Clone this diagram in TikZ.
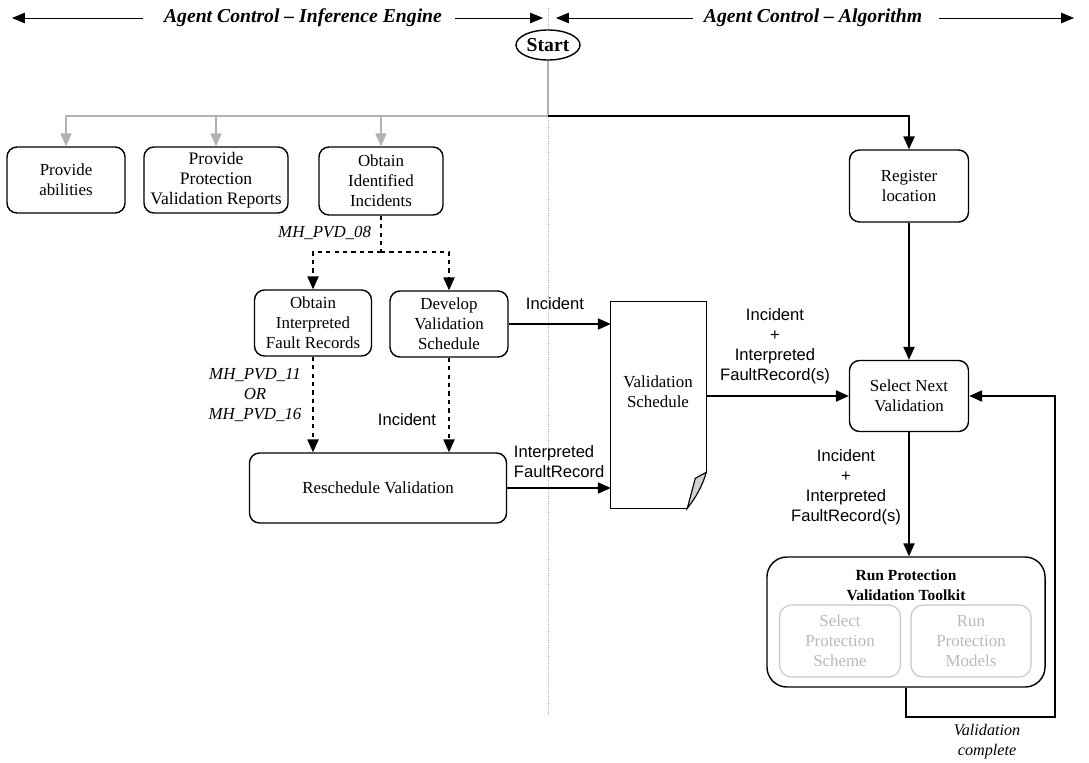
\documentclass[tikz,border=0pt]{standalone}
\usepackage{fontspec}
\setmainfont{Liberation Serif}
\setsansfont{Liberation Sans}
\usetikzlibrary{arrows.meta, shapes.geometric}

\begin{document}
\begin{tikzpicture}[
        x=0.025cm, y=-0.025cm,
        box/.style={draw, rounded corners=0.25cm, line width=1pt, align=center, inner sep=2pt, font=\fontsize{12}{14.3}\selectfont},
        inner box/.style={box, draw=gray!45, text=gray!55, rounded corners=0.3cm, line width=0.8pt},
        flow/.style={draw, line width=0.8pt, -{Triangle[length=3.2mm,width=2.8mm]}},
        grey flow/.style={flow, gray!60},
        dashed flow/.style={flow, dashed},
        flow label/.style={font=\sffamily\fontsize{11.8}{14.3}\selectfont, align=center},
        code label/.style={font=\itshape\fontsize{12}{14.3}\selectfont, align=center},
        head label/.style={font=\bfseries\itshape\fontsize{14}{16}\selectfont},
        head arrow/.style={draw, line width=0.6pt, -{Triangle[length=3.2mm,width=2.6mm]}}
    ]
	\useasboundingbox (0,0) rectangle (1089,762);

	% split between inference engine and algorithm
	\draw[gray!60, densely dotted, line width=0.6pt] (548,8) -- (548,716);

	\node[head label] (head_ie) at (303,18) {Agent Control -- Inference Engine};
	\node[head label] (head_alg) at (813,18) {Agent Control -- Algorithm};
	\coordinate (ie_left) at (12,18);
	\coordinate (ie_right) at (543,18);
	\coordinate (alg_left) at (556,18);
	\coordinate (alg_right) at (1074,18);
	\draw[head arrow] (head_ie.west) ++(-16,0) -- (ie_left);
	\draw[head arrow] (head_ie.east) ++(8,0) -- (ie_right);
	\draw[head arrow] (head_alg.west) ++(-6,0) -- (alg_left);
	\draw[head arrow] (head_alg.east) ++(12,0) -- (alg_right);

	\node[draw, ellipse, line width=1pt, fill=white, minimum width=1.6cm, minimum height=0.75cm, inner sep=0pt, font=\bfseries\fontsize{14}{16}\selectfont] (start) at (548,45) {Start};
	\coordinate (split) at (548,116);

	\node[box, minimum width=2.95cm, minimum height=1.65cm] (prov_abil) at (66,180) {Provide\\abilities};
	\node[box, minimum width=3.6cm, minimum height=1.65cm, font=\fontsize{12.5}{14.3}\selectfont] (prov_rep) at (216,180) {Provide\\Protection\\Validation Reports};
	\node[box, minimum width=3.1cm, minimum height=1.7cm] (obt_inc) at (381,181) {Obtain\\Identified\\Incidents};
	\node[box, minimum width=2.975cm, minimum height=1.8cm] (reg_loc) at (909,186) {Register\\location};

	\node[box, minimum width=2.925cm, minimum height=1.65cm] (obt_fault) at (313,323) {Obtain\\Interpreted\\Fault Records};
	\node[box, minimum width=2.95cm, minimum height=1.65cm] (dev_sched) at (449,324) {Develop\\Validation\\Schedule};
	\node[box, minimum width=6.425cm, minimum height=1.75cm] (resched) at (378,488) {Reschedule Validation};

	% schedule document with curled corner
	\node[minimum width=2.375cm, minimum height=5.15cm, inner sep=0pt] (val_sched) at (658.5,405) {};
	\draw[line width=1pt] (val_sched.south east) ++(0,-36) -- (val_sched.north east) -- (val_sched.north west) -- (val_sched.south west) -- ++(76,0);
	\filldraw[line width=0.8pt, fill=gray!35] (val_sched.south east) ++(0,-36) .. controls ++(-4,14) and ++(8,-10) .. ++(-19,36) -- ++(8,-30) -- cycle;
	\node[font=\fontsize{12}{14.3}\selectfont, align=center] (val_text) at (658,392) {Validation\\Schedule};

	\node[box, minimum width=2.975cm, minimum height=1.775cm] (sel_next) at (909,396) {Select Next\\Validation};

	\node[box, rounded corners=0.5cm, minimum width=6.95cm, minimum height=3.25cm] (run_kit) at (906,622) {};
	\node[font=\bfseries\fontsize{11}{14.3}\selectfont, align=center] (kit_title) at (906,585) {Run Protection\\Validation Toolkit};
	\node[inner box, minimum width=3.025cm, minimum height=1.8cm] (sel_scheme) at (840,641) {Select\\Protection\\Scheme};
	\node[inner box, minimum width=3.0cm, minimum height=1.8cm] (run_models) at (971,641) {Run\\Protection\\Models};

	% start fans out to the tasks
	\draw[gray!60, line width=0.8pt] (start) -- (split);
	\draw[grey flow] (split) -| (prov_abil);
	\draw[grey flow] (split) -| (prov_rep);
	\draw[grey flow] (split) -| (obt_inc);
	\draw[flow] (split) -| (reg_loc);

	\coordinate (fork) at (obt_inc.south |- 0,252);
	\draw[dashed, line width=0.8pt] (obt_inc) -- (fork);
	\draw[dashed flow] (fork) -| (obt_fault);
	\draw[dashed flow] (fork) -| (dev_sched);
	\draw[dashed flow] (obt_fault.south) -- (obt_fault.south |- resched.north);
	\draw[dashed flow] (dev_sched.south) -- (dev_sched.south |- resched.north);

	\draw[flow] (dev_sched.east) -- (dev_sched.east -| val_sched.west);
	\draw[flow] (resched.east) -- (resched.east -| val_sched.west);
	\draw[flow] (val_sched.east |- sel_next.west) -- (sel_next.west);
	\draw[flow] (reg_loc) -- (sel_next);
	\draw[flow] (sel_next.south) -- (sel_next.south |- run_kit.north);

	\coordinate (loop_a) at (1055,717);
	\draw[flow] (run_kit.south) -- (run_kit.south |- loop_a) -- (loop_a) -- (loop_a |- sel_next.east) -- (sel_next.east);

	\node[code label, anchor=east] at (376,233) {MH\_PVD\_08};
	\node[code label] at (255,395) {MH\_PVD\_11\\OR\\MH\_PVD\_16};
	\node[code label, font=\itshape\fontsize{11.5}{14.3}\selectfont] at (987,742) {Validation\\complete};

	\node[flow label] at (555,304) {Incident};
	\node[flow label] at (407,420) {Incident};
	\node[flow label, anchor=west, align=left] at (509,462) {Interpreted\\FaultRecord};
	\node[flow label] at (775,346) {Incident\\+\\Interpreted\\FaultRecord(s)};
	\node[flow label] at (846,487) {Incident\\+\\Interpreted\\FaultRecord(s)};

    \end{tikzpicture}
\end{document}
